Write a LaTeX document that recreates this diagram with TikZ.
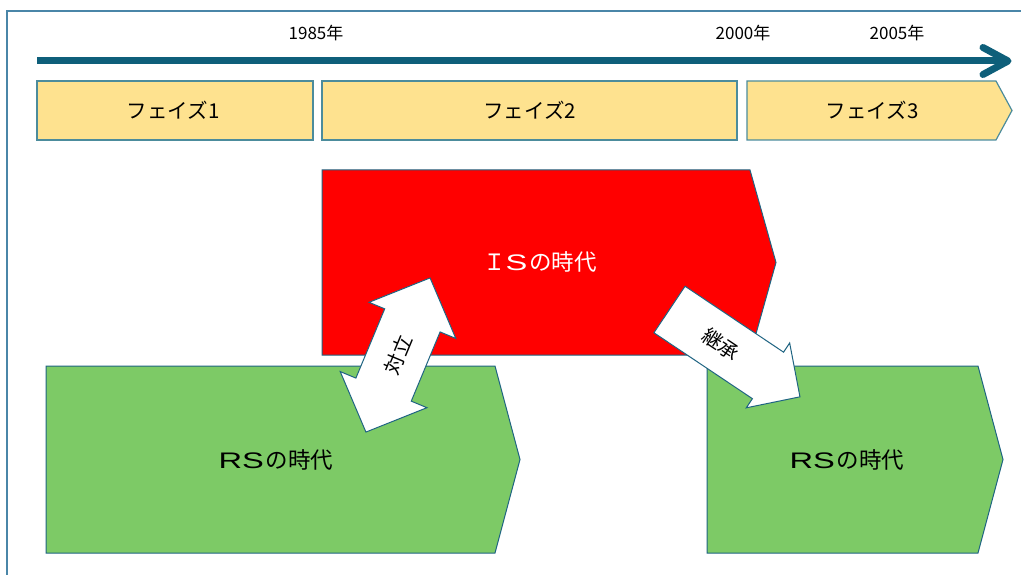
\documentclass[tikz,border=0pt]{standalone}
\usepackage{fontspec}
\setmainfont{Noto Sans CJK JP}
\newfontfamily\widelatin[FakeStretch=1.45]{Liberation Sans}
\definecolor{frameblue}{HTML}{4A86A8}
\definecolor{timeline}{HTML}{0E5F7A}
\definecolor{edge}{HTML}{1F6482}
\definecolor{phasefill}{HTML}{FEE28F}
\definecolor{phaseedge}{HTML}{4C8C9C}
\definecolor{rsgreen}{HTML}{7DCA66}
\definecolor{isred}{HTML}{FF0000}
\tikzset{
  phasebox/.style={fill=phasefill, draw=phaseedge, line width=1.2pt},
  erabox/.style={draw=edge, line width=1pt},
  arrowshape/.style={fill=white, draw=edge, line width=1pt, line join=miter},
  yearlabel/.style={font=\fontsize{17}{17}\selectfont, inner sep=0pt},
  phaselabel/.style={font=\fontsize{20.5}{20.5}\selectfont, inner sep=0pt},
  eralabel/.style={font=\fontsize{22.5}{22.5}\selectfont, inner sep=0pt},
  arrowlabel/.style={font=\fontsize{20}{20}\selectfont, inner sep=0pt},
}
\begin{document}
\begin{tikzpicture}[x=1pt,y=-1pt]
\useasboundingbox (0,0) rectangle (1021,575);
% frame
\draw[frameblue, line width=1.5pt] (7,575) -- (7,11) -- (1021,11);
% timeline
\coordinate (tlstart) at (37,61);
\coordinate (tlend) at (1006,61);
\draw[timeline, line width=7pt] (tlstart) -- (tlend);
\draw[timeline, line width=7pt, line cap=round, line join=round] (983,47.5) -- (1008,61) -- (983,74.5);
% year labels
\node[yearlabel] (y1985) at (316,33) {1985年};
\node[yearlabel] (y2000) at (743,33) {2000年};
\node[yearlabel] (y2005) at (897,33) {2005年};
% phases
\path[phasebox] (37,81) rectangle (313,140);
\path[phasebox] (322,81) rectangle (737,140);
\path[phasebox] (747,81) -- (996,81) -- (1012,110.5) -- (996,140) -- (747,140) -- cycle;
\node[phaselabel] (ph1) at (173,110.5) {フェイズ1};
\node[phaselabel] (ph2) at (529.5,110.5) {フェイズ2};
\node[phaselabel] (ph3) at (872,110.5) {フェイズ3};
% eras
\path[erabox, fill=isred] (322,170) -- (750,170) -- (776,262.5) -- (750,355) -- (322,355) -- cycle;
\path[erabox, fill=rsgreen] (46,366) -- (495,366) -- (520,459.5) -- (495,553) -- (46,553) -- cycle;
\path[erabox, fill=rsgreen] (707,366) -- (978,366) -- (1003,459.5) -- (978,553) -- (707,553) -- cycle;
\node[eralabel, text=white] (isera) at (540,262) {Ｉ{\widelatin S}\hspace{2pt}の時代};
\node[eralabel] (rsleft) at (276,460) {{\widelatin RS}\hspace{2pt}の時代};
\node[eralabel] (rsright) at (847,460) {{\widelatin RS}\hspace{2pt}の時代};
% double arrow (対立)
\begin{scope}[shift={(398,355)}, rotate=67.4]
  \path[arrowshape] (-83.5,0) -- (-37.5,47) -- (-37.5,30) -- (37.5,30) -- (37.5,47) -- (83.5,0)
     -- (37.5,-47) -- (37.5,-30) -- (-37.5,-30) -- (-37.5,-47) -- cycle;
  \node[arrowlabel, rotate=67.4] (taiitsu) at (0,0) {対立};
\end{scope}
% single arrow (継承)
\begin{scope}[shift={(669.5,309.5)}, rotate=-33.8]
  \path[arrowshape] (0,-28) -- (118.5,-28) -- (118.5,-39) -- (157,0) -- (118.5,39) -- (118.5,28) -- (0,28) -- cycle;
  \node[arrowlabel, rotate=-33.8] (keisho) at (62,0) {継承};
\end{scope}
\end{tikzpicture}
\end{document}
